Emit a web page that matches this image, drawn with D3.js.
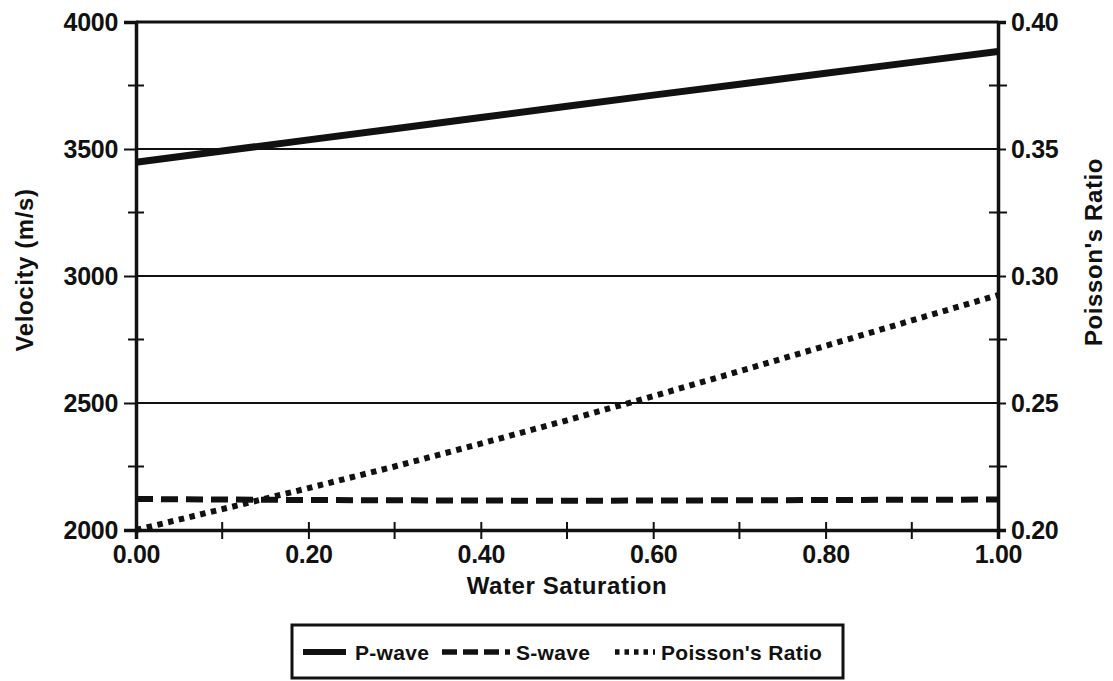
<!DOCTYPE html>
<html><head><meta charset="utf-8">
<script src="https://cdn.jsdelivr.net/npm/d3@7"></script>
<style>body{margin:0;background:#fff;} text{font-family:"Liberation Sans",Arial,sans-serif;font-weight:bold;fill:#111;}</style>
</head><body><svg id="c" width="1113" height="681"></svg>
<script>
const saturation = [0, 0.1, 0.2, 0.3, 0.4, 0.5, 0.6, 0.7, 0.8, 0.9, 1.0];
const pWave = [3448, 3492, 3536, 3580, 3624, 3668, 3712, 3755, 3798, 3841, 3884];
const sWave = [2122, 2120, 2118, 2117, 2116, 2115, 2116, 2117, 2118, 2119, 2120];
const poisson = [0.200, 0.2082, 0.2165, 0.2250, 0.2340, 0.2432, 0.2527, 0.2625, 0.2725, 0.2825, 0.2925];
const xTicks = [0, 0.2, 0.4, 0.6, 0.8, 1.0];
const xMinor = [0.1, 0.3, 0.5, 0.7, 0.9];
const yTicks = [2000, 2500, 3000, 3500, 4000];
const yMinor = [2250, 2750, 3250, 3750];
const y2Ticks = [0.20, 0.25, 0.30, 0.35, 0.40];
const y2Minor = [0.225, 0.275, 0.325, 0.375];

const svg = d3.select("#c");
const L = 136, R = 998, T = 22, B = 530;
const x = d3.scaleLinear().domain([0, 1]).range([L, R]);
const y = d3.scaleLinear().domain([2000, 4000]).range([B, T]);
const y2 = d3.scaleLinear().domain([0.2, 0.4]).range([B, T]);
const FS = "25px";

// gridlines
svg.append("g").selectAll("line").data(yTicks.filter(d => d > 2000)).join("line")
  .attr("x1", L).attr("x2", R).attr("y1", d => y(d)).attr("y2", d => y(d))
  .attr("stroke", "#111").attr("stroke-width", d => d === 4000 ? 3 : 2);

// left axis
const gl = svg.append("g").attr("transform", `translate(${L},0)`)
  .call(d3.axisLeft(y).tickValues(yTicks).tickSize(12).tickPadding(6).tickFormat(d3.format("d")));
gl.select(".domain").attr("stroke", "#111").attr("stroke-width", 3.5);
gl.selectAll(".tick line").attr("stroke", "#111").attr("stroke-width", 2);
gl.selectAll(".tick text").style("font-size", FS).style("font-family", "Liberation Sans").style("font-weight", "bold").style("letter-spacing", "-0.3px").attr("fill", "#111");
svg.append("g").selectAll("line").data(yMinor).join("line")
  .attr("x1", L - 8).attr("x2", L + 8).attr("y1", d => y(d)).attr("y2", d => y(d))
  .attr("stroke", "#111").attr("stroke-width", 2);

// right axis
const gr = svg.append("g").attr("transform", `translate(${R},0)`)
  .call(d3.axisRight(y2).tickValues(y2Ticks).tickSize(8).tickPadding(5).tickFormat(d3.format(".2f")));
gr.select(".domain").attr("stroke", "#111").attr("stroke-width", 3.5);
gr.selectAll(".tick line").attr("stroke", "#111").attr("stroke-width", 2);
gr.selectAll(".tick text").style("font-size", FS).style("font-family", "Liberation Sans").style("font-weight", "bold").style("letter-spacing", "-0.3px").attr("fill", "#111");
svg.append("g").selectAll("line").data(y2Minor).join("line")
  .attr("x1", R - 9).attr("x2", R + 9).attr("y1", d => y2(d)).attr("y2", d => y2(d))
  .attr("stroke", "#111").attr("stroke-width", 2);

// bottom axis
const gb = svg.append("g").attr("transform", `translate(0,${B})`)
  .call(d3.axisBottom(x).tickValues(xTicks).tickSize(9).tickPadding(6).tickFormat(d3.format(".2f")));
gb.select(".domain").attr("stroke", "#111").attr("stroke-width", 3.5);
gb.selectAll(".tick line").attr("stroke", "#111").attr("stroke-width", 2).attr("y1", -8);
gb.selectAll(".tick text").style("font-size", FS).style("font-family", "Liberation Sans").style("font-weight", "bold").style("letter-spacing", "-0.3px").attr("fill", "#111");
svg.append("g").selectAll("line").data(xMinor).join("line")
  .attr("x1", d => x(d)).attr("x2", d => x(d)).attr("y1", B - 8).attr("y2", B + 9)
  .attr("stroke", "#111").attr("stroke-width", 2);

// series
const lineV = d3.line().x((d, i) => x(saturation[i])).y(d => y(d));
const lineP = d3.line().x((d, i) => x(saturation[i])).y(d => y2(d));
svg.append("path").datum(pWave).attr("d", lineV).attr("fill", "none")
  .attr("stroke", "#111").attr("stroke-width", 7);
svg.append("path").datum(sWave).attr("d", lineV).attr("fill", "none")
  .attr("stroke", "#111").attr("stroke-width", 6).attr("stroke-dasharray", "17,8");
svg.append("path").datum(poisson).attr("d", lineP).attr("fill", "none")
  .attr("stroke", "#111").attr("stroke-width", 6).attr("stroke-dasharray", "5.5,5.5");

// axis titles
svg.append("text").attr("x", (L + R) / 2).attr("y", 594).attr("text-anchor", "middle")
  .style("font-size", "24px").style("letter-spacing", "0.6px").text("Water Saturation");
svg.append("text").attr("transform", "translate(33,270) rotate(-90)").attr("text-anchor", "middle")
  .style("font-size", "24px").style("letter-spacing", "0.6px").text("Velocity (m/s)");
svg.append("text").attr("transform", "translate(1102,252) rotate(-90)").attr("text-anchor", "middle")
  .style("font-size", "24px").style("letter-spacing", "0.6px").text("Poisson's Ratio");

// legend
const lg = svg.append("g");
lg.append("rect").attr("x", 292).attr("y", 625).attr("width", 551).attr("height", 53)
  .attr("fill", "none").attr("stroke", "#111").attr("stroke-width", 3);
const legendItems = [
  {label: "P-wave", x1: 303, x2: 346, tx: 355, dash: null, w: 6},
  {label: "S-wave", x1: 442, x2: 510, tx: 516, dash: "15,6", w: 5.5},
  {label: "Poisson's Ratio", x1: 615, x2: 655, tx: 661, dash: "4.5,5", w: 5.5}
];
legendItems.forEach(it => {
  lg.append("line").attr("x1", it.x1).attr("x2", it.x2).attr("y1", 652).attr("y2", 652)
    .attr("stroke", "#111").attr("stroke-width", it.w).attr("stroke-dasharray", it.dash);
  lg.append("text").attr("x", it.tx).attr("y", 660).style("font-size", "21px").style("letter-spacing", "0.3px").text(it.label);
});
</script></body></html>
